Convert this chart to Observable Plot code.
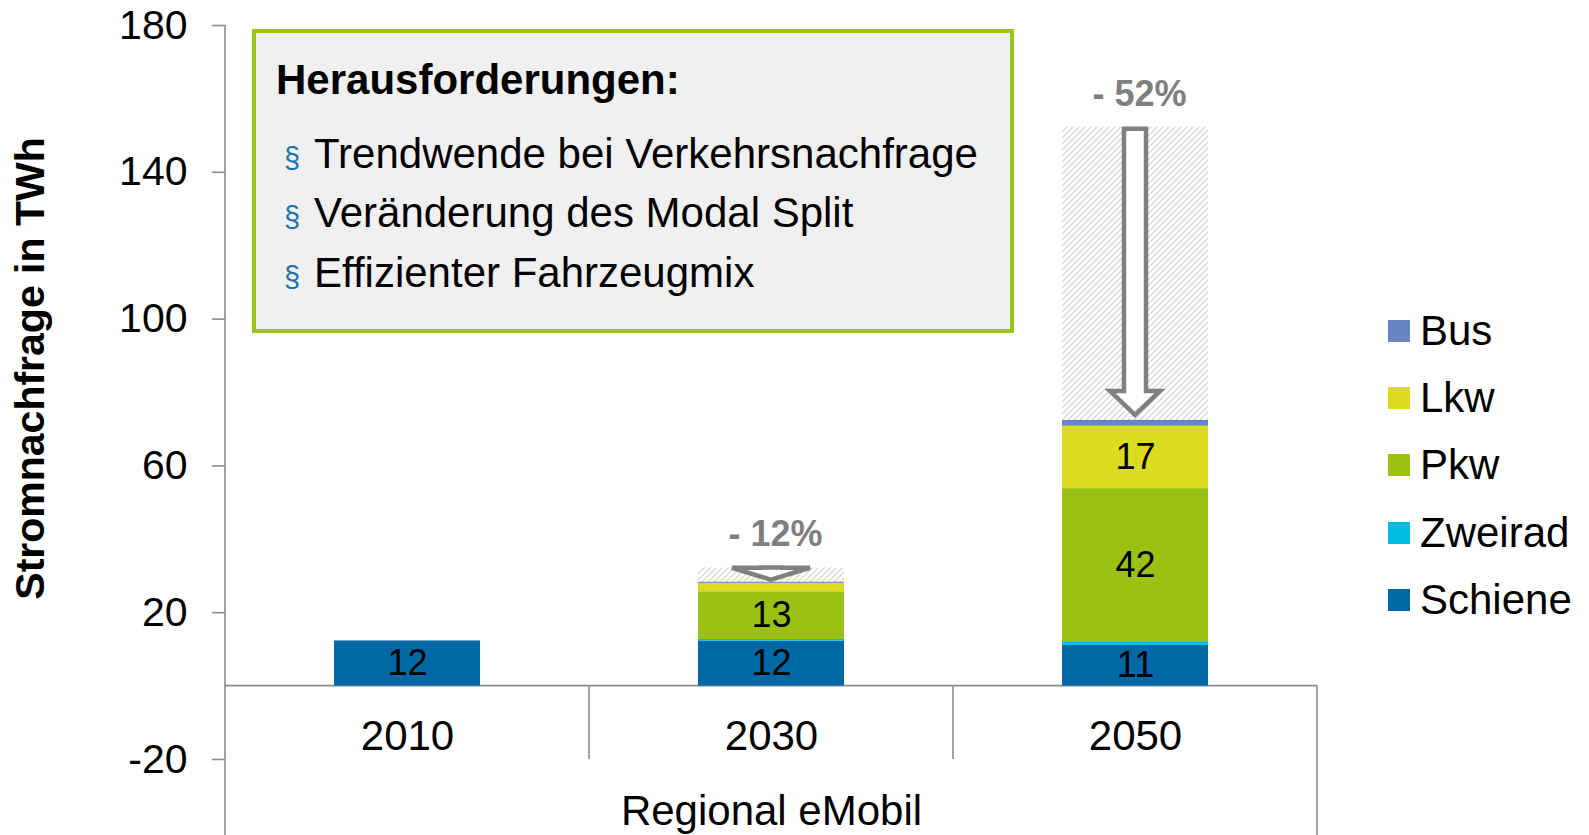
<!DOCTYPE html>
<html><head><meta charset="utf-8">
<script src="https://cdn.jsdelivr.net/npm/d3@7"></script>
<script src="https://cdn.jsdelivr.net/npm/@observablehq/plot@0.6"></script>
<style>
html,body{margin:0;padding:0;background:#fff;}
#wrap{position:relative;width:1589px;height:835px;overflow:hidden;font-family:"Liberation Sans",Arial,sans-serif;}
#wrap svg{position:absolute;left:0;top:0;}
#legend{position:absolute;left:1388px;top:297px;}
.li{display:flex;align-items:center;height:67.4px;font-size:42px;color:#000;}
.sw{width:22px;height:22px;margin-right:10px;flex:none;}
</style></head><body><div id="wrap"></div>
<script>
// ---- data ----
const years = ["2010", "2030", "2050"];
const types = ["Schiene", "Zweirad", "Pkw", "Lkw", "Bus"];
const schiene = [12.3, 12.2, 11.1];
const zweirad = [0, 0.5, 1.0];
const pkw = [0, 13.0, 41.7];
const lkw = [0, 2.3, 17.0];
const bus = [0, 0.3, 1.6];
const referenceTotals = [null, 32.2, 152.3];
const reductionLabels = ["", "- 12%", "- 52%"];
const yTicks = [-20, 20, 60, 100, 140, 180];
const legendOrder = ["Bus", "Lkw", "Pkw", "Zweirad", "Schiene"];
const boxTitle = "Herausforderungen:";
const boxItems = ["Trendwende bei Verkehrsnachfrage", "Veränderung des Modal Split", "Effizienter Fahrzeugmix"];
const yLabel = "Stromnachfrage in TWh";
const groupLabel = "Regional eMobil";
const typeColors = ["#0068a4", "#00bbe2", "#9bc113", "#dcdb1f", "#6785c2"];

// ---- build tables ----
const series = {Schiene: schiene, Zweirad: zweirad, Pkw: pkw, Lkw: lkw, Bus: bus};
const rows = [];
years.forEach((yr, i) => types.forEach(t => rows.push({year: yr, type: t, value: series[t][i]})));
const totals = years.map((yr, i) => types.reduce((s, t) => s + series[t][i], 0));
const hatchRows = years.map((yr, i) => ({year: yr, total: totals[i], ref: referenceTotals[i], label: reductionLabels[i], i}))
  .filter(d => d.ref != null);

const arrowStyle = {"2030": {sh: 10.5, hh: 39, hl: 12, top: 0, gap: 2}, "2050": {sh: 11, hh: 25, hl: 24, top: 2, gap: 5}};
const font = "Liberation Sans, Arial, sans-serif";
const inset = 109;

const defsMark = () => {
  const defs = d3.create("svg:defs");
  const p = defs.append("pattern").attr("id", "hatch").attr("patternUnits", "userSpaceOnUse")
    .attr("width", 6).attr("height", 6);
  p.append("rect").attr("width", 6).attr("height", 6).attr("fill", "white");
  p.append("path").attr("d", "M-1,1 l2,-2 M0,6 l6,-6 M5,7 l2,-2").attr("stroke", "#d0d0d0").attr("stroke-width", 1.1);
  return defs.node();
};

const frameMark = (index, scales, values, dims) => {
  const x = scales.x, y = scales.y, bw = x.bandwidth();
  const H = dims.height;
  const x0 = x(years[0]), x1 = x(years[years.length - 1]) + bw;
  const y0 = y(0), yb = y(-20);
  const g = d3.create("svg:g").attr("stroke", "#8c8c8c").attr("stroke-width", 1.6).attr("fill", "none");
  g.append("line").attr("x1", x0).attr("x2", x0).attr("y1", y(180)).attr("y2", H);
  g.append("line").attr("x1", x1).attr("x2", x1).attr("y1", y0).attr("y2", H);
  g.append("line").attr("x1", x0).attr("x2", x1).attr("y1", y0).attr("y2", y0);
  years.slice(1).forEach(yr => g.append("line").attr("x1", x(yr)).attr("x2", x(yr)).attr("y1", y0).attr("y2", yb));
  return g.node();
};

const arrowMark = (index, scales) => {
  const x = scales.x, y = scales.y, bw = x.bandwidth();
  const g = d3.create("svg:g").attr("stroke", "#808080").attr("stroke-width", 4.5)
    .attr("fill", "white").attr("stroke-linejoin", "miter");
  hatchRows.forEach(d => {
    const s = arrowStyle[d.year];
    const cx = x(d.year) + bw / 2;
    const yTop = y(d.ref) + s.top, yTip = y(d.total) - s.gap, yHead = yTip - s.hl;
    const pts = [[cx - s.sh, yTop], [cx + s.sh, yTop], [cx + s.sh, yHead], [cx + s.hh, yHead], [cx, yTip],
      [cx - s.hh, yHead], [cx - s.sh, yHead]];
    g.append("path").attr("d", "M" + pts.map(p => p.join(",")).join("L") + "Z");
  });
  return g.node();
};

const boxMark = () => {
  const g = d3.create("svg:g").attr("font-family", font).attr("text-anchor", "start");
  g.append("rect").attr("x", 254).attr("y", 31).attr("width", 758).attr("height", 300)
    .attr("fill", "#f0f0f0").attr("stroke", "#9bc31a").attr("stroke-width", 4);
  g.append("text").attr("x", 276).attr("y", 94).attr("font-size", 42).attr("font-weight", "bold")
    .attr("fill", "#000").text(boxTitle);
  boxItems.forEach((t, k) => {
    const by = 168 + k * 59.3;
    g.append("text").attr("x", 284).attr("y", by).attr("font-size", 29).attr("fill", "#1b72b3").text("§");
    g.append("text").attr("x", 314).attr("y", by).attr("font-size", 42).attr("fill", "#000").text(t);
  });
  return g.node();
};

const chart = Plot.plot({
  width: 1589,
  height: 835,
  marginLeft: 225,
  marginRight: 272,
  marginTop: 25,
  marginBottom: 76,
  style: {fontFamily: font, background: "white", overflow: "visible"},
  x: {type: "band", domain: years, paddingInner: 0, paddingOuter: 0, axis: null},
  y: {domain: [-20, 180]},
  color: {domain: types, range: typeColors},
  marks: [
    defsMark,
    Plot.barY(hatchRows, {x: "year", y1: "total", y2: "ref", fill: "url(#hatch)", insetLeft: inset, insetRight: inset}),
    frameMark,
    Plot.barY(rows, {x: "year", y: "value", fill: "type", order: types, insetLeft: inset, insetRight: inset}),
    arrowMark,
    Plot.text(rows, Plot.stackY({x: "year", y: "value", z: "type", order: types,
      text: d => d.value >= 5 ? d3.format(".0f")(d.value) : "", fontSize: 36, fill: "black"})),
    Plot.text(hatchRows, {x: "year", y: "ref", text: "label", dy: -33, dx: 4, fontSize: 36, fontWeight: "bold", fill: "#7f7f7f"}),
    Plot.axisY({ticks: yTicks, tickSize: 13, tickPadding: 25, fontSize: 41, stroke: "#8c8c8c", strokeWidth: 1.6,
      fill: "black", label: null, tickFormat: d => String(d)}),
    Plot.text(years, {x: d => d, y: 0, dy: 50, fontSize: 42, fill: "black"}),
    Plot.text([groupLabel], {frameAnchor: "bottom", lineAnchor: "middle", dy: 52, fontSize: 42, fill: "black"}),
    Plot.text([yLabel], {frameAnchor: "left", textAnchor: "middle", lineAnchor: "middle", rotate: -90, dx: -195, dy: -24,
      fontSize: 41, fontWeight: "bold", fill: "black"}),
    boxMark
  ]
});

const wrap = document.getElementById("wrap");
wrap.appendChild(chart);
const legend = document.createElement("div");
legend.id = "legend";
legendOrder.forEach(t => {
  const li = document.createElement("div");
  li.className = "li";
  const sw = document.createElement("span");
  sw.className = "sw";
  sw.style.background = typeColors[types.indexOf(t)];
  const lab = document.createElement("span");
  lab.textContent = t;
  li.appendChild(sw);
  li.appendChild(lab);
  legend.appendChild(li);
});
wrap.appendChild(legend);
</script></body></html>
